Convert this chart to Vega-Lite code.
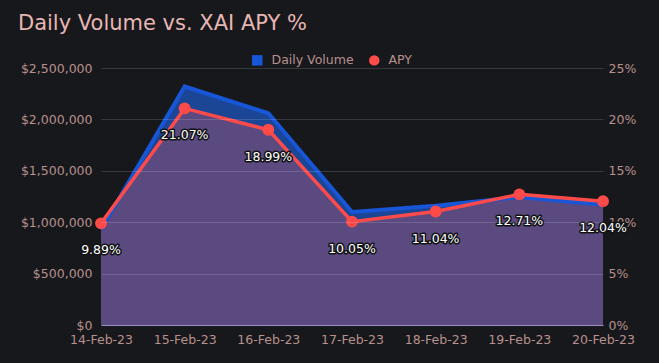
{
  "$schema": "https://vega.github.io/schema/vega-lite/v6.json",
  "width": 502,
  "height": 257,
  "autosize": {"type": "none"},
  "padding": {"left": 101, "top": 68, "right": 56, "bottom": 38},
  "background": "#17181c",
  "title": {"text": "Daily Volume vs. XAI APY %", "anchor": "start", "frame": "group", "dx": -83, "offset": 20, "fontSize": 21, "font": "DejaVu Sans", "fontWeight": "normal", "color": "#e6b6b2"},
  "config": {
    "view": {"stroke": null},
    "axis": {"labelFont": "DejaVu Sans", "labelFontSize": 12.5, "labelColor": "#b8908c", "ticks": false, "domain": false, "title": null, "gridColor": "#ffffff", "gridOpacity": 0.14},
    "legend": {"labelFont": "DejaVu Sans", "labelFontSize": 12.5, "labelColor": "#b8908c"}
  },
  "data": {"values": [
    {"date": "14-Feb-23", "volume": 930000, "apy": 0.0989},
    {"date": "15-Feb-23", "volume": 2320000, "apy": 0.2107},
    {"date": "16-Feb-23", "volume": 2060000, "apy": 0.1899},
    {"date": "17-Feb-23", "volume": 1100000, "apy": 0.1005},
    {"date": "18-Feb-23", "volume": 1160000, "apy": 0.1104},
    {"date": "19-Feb-23", "volume": 1245000, "apy": 0.1271},
    {"date": "20-Feb-23", "volume": 1170000, "apy": 0.1204}
  ]},
  "encoding": {
    "x": {"field": "date", "type": "ordinal", "sort": null, "scale": {"type": "point", "padding": 0},
      "axis": {"labelAngle": 0, "labelPadding": 8, "domain": true, "domainColor": "#8c7cbc", "grid": false}}
  },
  "layer": [
    {"mark": {"type": "area", "color": "#1b4595"},
     "encoding": {"y": {"field": "volume", "type": "quantitative", "scale": {"domain": [0, 2500000]},
       "axis": {"values": [0, 500000, 1000000, 1500000, 2000000, 2500000], "format": "$,.0f", "labelPadding": 9, "grid": true, "zindex": 1}}}},
    {"mark": {"type": "area", "color": "#5b4a80"},
     "encoding": {"y": {"field": "apy", "type": "quantitative", "scale": {"domain": [0, 0.25]}, "axis": null}}},
    {"mark": {"type": "line", "strokeWidth": 4},
     "encoding": {"y": {"field": "volume", "type": "quantitative", "scale": {"domain": [0, 2500000]}, "axis": null},
       "color": {"datum": "Daily Volume", "type": "nominal",
         "scale": {"domain": ["Daily Volume", "APY"], "range": ["#1756d6", "#ff4a4a"]},
         "legend": {"title": null, "orient": "none", "legendX": 150, "legendY": -14, "direction": "horizontal", "symbolSize": 110, "columnPadding": 14, "labelOffset": 8,
           "encode": {"symbols": {"update": {
             "shape": {"signal": "datum.value === 'APY' ? 'circle' : 'square'"},
             "fill": {"signal": "datum.value === 'APY' ? '#ff4a4a' : '#1756d6'"},
             "stroke": {"value": "transparent"},
             "strokeWidth": {"value": 0},
             "opacity": {"value": 1}}}}}}}},
    {"mark": {"type": "line", "strokeWidth": 3.5},
     "encoding": {"y": {"field": "apy", "type": "quantitative", "scale": {"domain": [0, 0.25]},
       "axis": {"orient": "right", "values": [0, 0.05, 0.1, 0.15, 0.2, 0.25], "format": ".0%", "labelPadding": 5, "grid": false}},
       "color": {"datum": "APY", "type": "nominal"}}},
    {"mark": {"type": "point", "filled": true, "size": 140, "opacity": 1},
     "encoding": {"y": {"field": "apy", "type": "quantitative", "scale": {"domain": [0, 0.25]}, "axis": null},
       "color": {"datum": "APY", "type": "nominal"}}},
    {"mark": {"type": "text", "dy": 27, "font": "DejaVu Sans", "fontSize": 12.5, "stroke": "#111214", "strokeWidth": 3, "strokeJoin": "round", "fill": "#111214"},
     "encoding": {"y": {"field": "apy", "type": "quantitative", "scale": {"domain": [0, 0.25]}, "axis": null},
       "text": {"field": "apy", "type": "quantitative", "format": ".2%"}}},
    {"mark": {"type": "text", "dy": 27, "font": "DejaVu Sans", "fontSize": 12.5, "color": "#ffffff"},
     "encoding": {"y": {"field": "apy", "type": "quantitative", "scale": {"domain": [0, 0.25]}, "axis": null},
       "text": {"field": "apy", "type": "quantitative", "format": ".2%"}}}
  ],
  "resolve": {"scale": {"y": "independent"}}
}
